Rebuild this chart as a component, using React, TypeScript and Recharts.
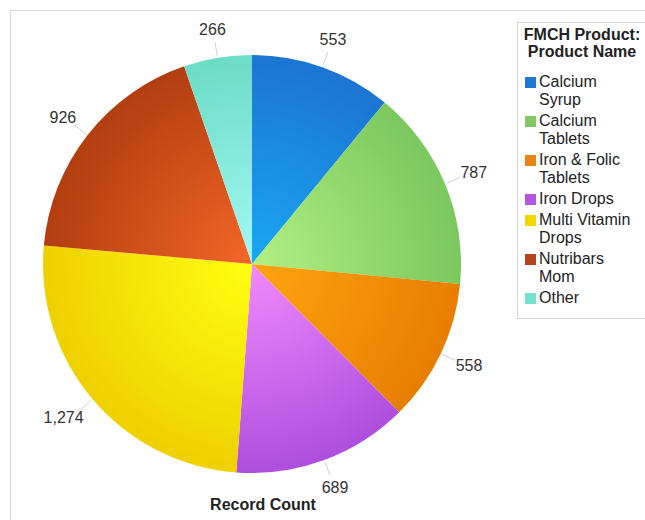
import * as React from "react";
import { PieChart, Pie, Cell, Legend } from "recharts";

// slices, clockwise from 12 o'clock
const products = [
  "Calcium Syrup",
  "Calcium Tablets",
  "Iron & Folic Tablets",
  "Iron Drops",
  "Multi Vitamin Drops",
  "Nutribars Mom",
  "Other",
];
const recordCounts = [553, 787, 558, 689, 1274, 926, 266];

// inner (light) / outer (dark) shades of each slice, plus the legend swatch
const innerColors = ["#1aa8f4", "#b2f082", "#ffa410", "#f28afe", "#ffff10", "#f46626", "#a4f8f4"];
const outerColors = ["#1b74d2", "#7ac85e", "#e87e00", "#ae4ede", "#efd000", "#b23e10", "#6cdcc6"];
const swatchColors = ["#1f78d2", "#80c864", "#ea8410", "#b456e2", "#f2d800", "#b4441a", "#74e2cc"];

const data = products.map((name, i) => ({ name, value: recordCounts[i] }));

const CX = 252;
const CY = 264;
const R = 209;
const FONT = "'Liberation Sans', Arial, sans-serif";

const RAD = Math.PI / 180;

function sliceLabel(props: any) {
  const { midAngle, value } = props;
  const text = value.toLocaleString("en-US");
  const s = Math.cos(-midAngle * RAD);
  const c = Math.sin(-midAngle * RAD);
  const half = text.length * 3.4;
  const x = CX + (R + 21) * s + half * s;
  const y = CY + (R + 21) * c + 8 * c;
  return (
    <text
      x={x}
      y={y}
      textAnchor="middle"
      dominantBaseline="central"
      fontSize={16}
      fontFamily={FONT}
      fill="#333"
    >
      {text}
    </text>
  );
}

function sliceLine(props: any) {
  const { midAngle } = props;
  const s = Math.cos(-midAngle * RAD);
  const c = Math.sin(-midAngle * RAD);
  return (
    <line
      x1={CX + (R + 2) * s}
      y1={CY + (R + 2) * c}
      x2={CX + (R + 16) * s}
      y2={CY + (R + 16) * c}
      stroke="#cfcfcf"
      strokeWidth={1}
    />
  );
}

function renderLegend() {
  return (
    <div
      style={{
        width: 140,
        height: 297,
        border: "1px solid #d4d4d4",
        background: "#fff",
        fontFamily: FONT,
        boxSizing: "border-box",
        paddingTop: 3,
      }}
    >
      <div
        style={{
          width: 128,
          textAlign: "center",
          fontWeight: "bold",
          fontSize: 16,
          lineHeight: "17px",
          color: "#222",
          marginBottom: 13,
        }}
      >
        FMCH Product:
        <br />
        Product Name
      </div>
      {products.map((name, i) => (
        <div key={name} style={{ display: "flex", alignItems: "flex-start", marginLeft: 7, marginBottom: 3 }}>
          <span
            style={{
              display: "inline-block",
              width: 11,
              height: 11,
              marginTop: 4,
              marginRight: 3,
              background: swatchColors[i],
            }}
          />
          <span style={{ width: 104, fontSize: 16, lineHeight: "18px", color: "#222" }}>{name}</span>
        </div>
      ))}
    </div>
  );
}

export default function App() {
  return (
    <div style={{ position: "absolute", left: 0, top: 0, width: 645, height: 520, background: "#fff", overflow: "hidden" }}>
      <div style={{ position: "absolute", left: 10, top: 10, width: 640, height: 520, borderTop: "1px solid #d8d8d8", borderLeft: "1px solid #d8d8d8" }} />
      <div style={{ position: "absolute", left: 0, top: 0 }}>
        <PieChart width={645} height={520} margin={{ top: 0, right: 0, bottom: 0, left: 0 }}>
          <defs>
            {products.map((name, i) => (
              <radialGradient key={name} id={`grad${i}`} cx={CX} cy={CY} r={R} gradientUnits="userSpaceOnUse">
                <stop offset="0%" stopColor={innerColors[i]} />
                <stop offset="100%" stopColor={outerColors[i]} />
              </radialGradient>
            ))}
          </defs>
          <Pie
            data={data}
            dataKey="value"
            nameKey="name"
            cx={CX}
            cy={CY}
            outerRadius={R}
            startAngle={90}
            endAngle={-270}
            stroke="none"
            label={sliceLabel}
            labelLine={sliceLine}
            isAnimationActive={false}
          >
            {data.map((d, i) => (
              <Cell key={d.name} fill={`url(#grad${i})`} />
            ))}
          </Pie>
          <Legend
            content={renderLegend}
            wrapperStyle={{ position: "absolute", left: 517, top: 22, width: 140, height: 297 }}
          />
        </PieChart>
      </div>
      <div
        style={{
          position: "absolute",
          left: 163,
          top: 496,
          width: 200,
          textAlign: "center",
          fontFamily: FONT,
          fontWeight: "bold",
          fontSize: 16,
          color: "#222",
        }}
      >
        Record Count
      </div>
    </div>
  );
}
